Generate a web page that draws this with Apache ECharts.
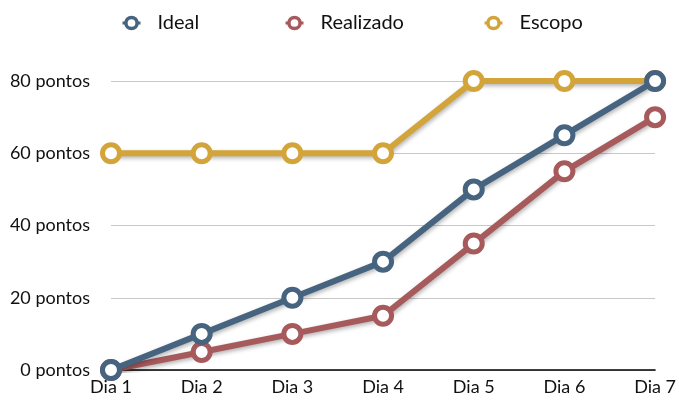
<!DOCTYPE html>
<html>
<head>
<meta charset="utf-8">
<script src="https://cdn.jsdelivr.net/npm/echarts@6/dist/echarts.min.js"></script>
<style>
  html, body { margin: 0; padding: 0; background: #fff; }
  #chart { width: 679px; height: 402px; }
</style>
</head>
<body>
<div id="chart"></div>
<script>
// dados
var dias = ['Dia 1', 'Dia 2', 'Dia 3', 'Dia 4', 'Dia 5', 'Dia 6', 'Dia 7']
var ideal = [0, 10, 20, 30, 50, 65, 80]
var realizado = [0, 5, 10, 15, 35, 55, 70]
var escopo = [60, 60, 60, 60, 80, 80, 80]

var fonte = 'Lato'

function serie(nome, dados, cor, z) {
  return {
    name: nome,
    type: 'line',
    data: dados,
    z: z,
    symbol: 'circle',
    symbolSize: 17,
    showAllSymbol: true,
    itemStyle: { color: '#fff', borderColor: cor, borderWidth: 5 },
    lineStyle: {
      color: cor, width: 6,
      shadowColor: 'rgba(0,0,0,0.3)', shadowBlur: 4, shadowOffsetX: 1, shadowOffsetY: 2
    },
    emphasis: { disabled: true },
    animation: false
  }
}

function legenda(nome, left) {
  return {
    data: [nome], left: left, top: 8,
    itemWidth: 18, itemHeight: 14, itemGap: 0,
    itemStyle: { borderWidth: 3.5 },
    lineStyle: { width: 3 },
    textStyle: { fontFamily: fonte, fontSize: 20, color: '#111', padding: [0, 0, 0, 12] }
  }
}

var chart = echarts.init(document.getElementById('chart'))
chart.setOption({
  backgroundColor: '#fff',
  legend: [legenda('Ideal', 116), legenda('Realizado', 279), legenda('Escopo', 478)],
  grid: { left: 111, right: 22, top: 81, bottom: 32 },
  xAxis: {
    type: 'category',
    data: dias,
    boundaryGap: false,
    axisLine: { lineStyle: { color: '#000', width: 1.5 } },
    axisTick: { show: false },
    axisLabel: { fontFamily: fonte, fontSize: 18, color: '#111', margin: 8 }
  },
  yAxis: {
    type: 'value',
    min: 0, max: 80, interval: 20,
    axisLine: { show: false },
    axisTick: { show: false },
    splitLine: { lineStyle: { color: '#c8c8c8', width: 1 } },
    axisLabel: {
      fontFamily: fonte, fontSize: 18, color: '#111', margin: 21,
      formatter: function (v) { return v + ' pontos' }
    }
  },
  series: [
    serie('Escopo', escopo, '#d2a43a', 2),
    serie('Realizado', realizado, '#a65a5c', 3),
    serie('Ideal', ideal, '#46637f', 4)
  ]
})
</script>
</body>
</html>
